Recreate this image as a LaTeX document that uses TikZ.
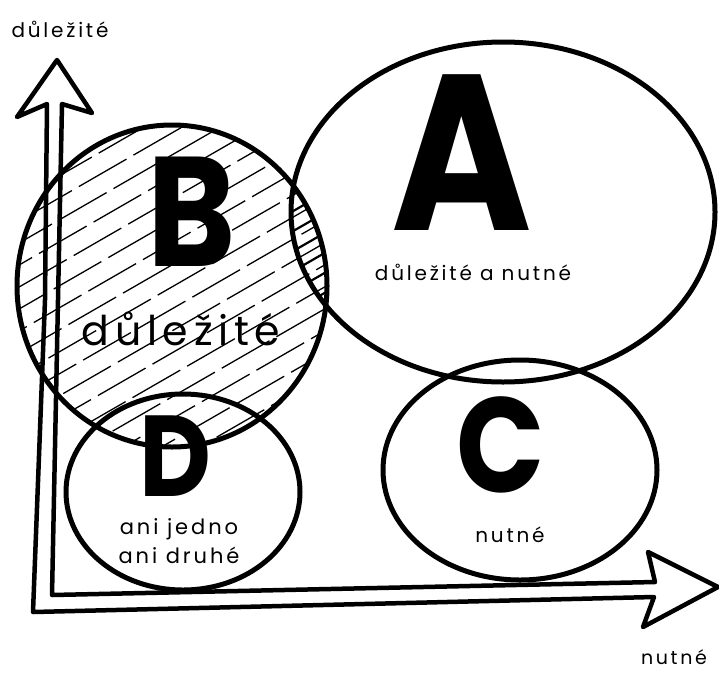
\documentclass[tikz,border=0pt]{standalone}
\usepackage{fontspec}
\setmainfont{Poppins}
\newfontfamily\hand[LetterSpace=14]{Poppins}
\newfontfamily\bigletter[]{Poppins}
\begin{document}
\begin{tikzpicture}[x=1pt,y=-1pt,
  ring/.style={line width=5pt},
  axisline/.style={line width=4.5pt,line join=round,line cap=round},
  hatch/.style={line width=1.3pt,dash pattern=on 55pt off 8pt},
  lenshatch/.style={line width=2.2pt},
  lbl/.style={inner sep=0pt,font=\hand},
  big/.style={inner sep=0pt,xscale=0.86}]
\useasboundingbox (0,0) rectangle (719,672);
% hatching in B
\begin{scope}
\clip (172,286) ellipse [x radius=155pt, y radius=161pt];
\foreach \c [count=\i] in {100,122,...,800}
  \draw[hatch,dash phase={\i*23pt}] (0,\c) -- (420,\c-242);
\end{scope}
% lens hatching (A and B)
\begin{scope}
\clip (172,286) ellipse [x radius=155pt, y radius=161pt];
\clip (503,212) ellipse [x radius=212pt, y radius=170pt];
\foreach \c in {100,120,...,800}
  \draw[lenshatch] (0,\c) -- (420,\c-242);
\end{scope}
% circles
\node[inner sep=0pt] (Bc) at (172,286) {};
\node[inner sep=0pt] (Ac) at (503,212) {};
\node[inner sep=0pt] (Cc) at (520,470) {};
\node[inner sep=0pt] (Dc) at (183,492) {};
\draw[ring] (Bc) ellipse [x radius=155pt, y radius=161pt];
\draw[ring] (Ac) ellipse [x radius=212pt, y radius=170pt];
\draw[ring] (Cc) ellipse [x radius=137pt, y radius=110pt];
\draw[ring] (Dc) ellipse [x radius=117pt, y radius=98pt];
% axes outline
\draw[axisline]
  (17,117) -- (57,60) -- (92,113) -- (62,104) -- (58,300) -- (52,595)
  -- (655,582) -- (648,552) -- (718,587) -- (643,627) -- (654,597)
  -- (33,612) -- (45,300) -- (47,104) -- cycle;
% big letters
\node[big,font=\bigletter\bfseries\fontsize{156}{156}\selectfont] (B) at (192,212) {B};
\node[big,font=\bigletter\bfseries\fontsize{222}{222}\selectfont] (A) at (462,153) {A};
\node[big,font=\bigletter\bfseries\fontsize{135}{135}\selectfont] (C) at (501,445) {C};
\node[big,font=\bigletter\bfseries\fontsize{115}{115}\selectfont] (D) at (175,456) {D};
% labels
\node[lbl,font=\hand\fontsize{20}{20}\selectfont] (ylab) at (60,29) {důležité};
\node[lbl,font=\hand\fontsize{19}{19}\selectfont] (xlab) at (674,657) {nutné};
\node[lbl,font=\hand\fontsize{41}{41}\selectfont] (Bt) at (181,329) {důležité};
\node[lbl,font=\hand\fontsize{20}{20}\selectfont] (At) at (473,272) {důležité a nutné};
\node[lbl,font=\hand\fontsize{20}{20}\selectfont] (Ct) at (510,535) {nutné};
\node[lbl,font=\hand\fontsize{21}{29}\selectfont,align=center] (Dt) at (179,541) {ani jedno\\ani druhé};
\end{tikzpicture}
\end{document}
